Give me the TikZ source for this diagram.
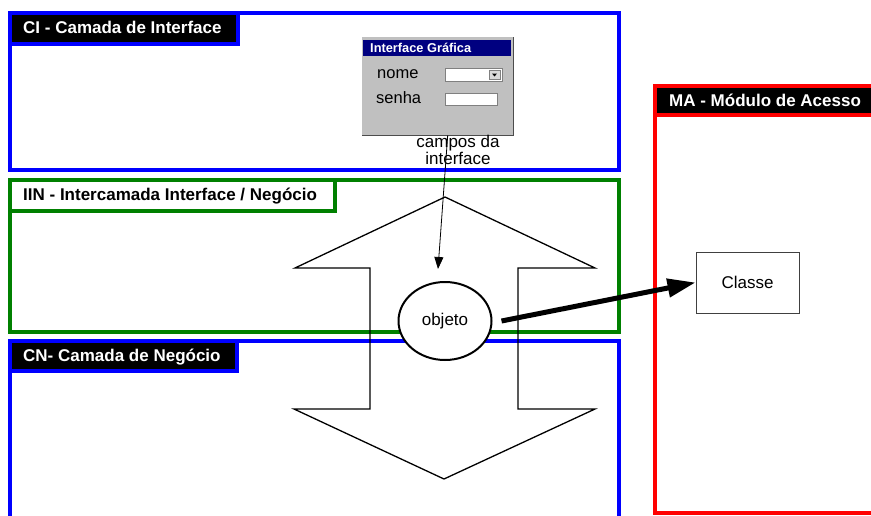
\documentclass[tikz,border=0pt]{standalone}
\usepackage{fontspec}
\setmainfont{Liberation Sans}
\usetikzlibrary{arrows.meta,shapes.geometric}

\definecolor{layerblue}{RGB}{0,0,255}
\definecolor{layergreen}{RGB}{0,128,0}
\definecolor{layerred}{RGB}{255,0,0}
\definecolor{titlenavy}{RGB}{0,0,128}
\definecolor{wingray}{RGB}{192,192,192}

\begin{document}
\begin{tikzpicture}[x=1pt,y=-1pt,
  layer/.style={line width=4pt},
  tagtext/.style={anchor=base west, inner sep=0pt, font=\fontsize{17}{20}\selectfont\bfseries},
  plain/.style={font=\fontsize{17}{20}\selectfont},
  formtext/.style={anchor=base west, inner sep=0pt, font=\fontsize{16.5}{18}\selectfont},
  field/.style={fill=white, draw=gray, line width=0.8pt},
]
\useasboundingbox (0,0) rectangle (871,515);
\fill[white] (0,0) rectangle (871,515);

% CI - interface layer
\draw[layer, layerblue] (10,13) rectangle (619,170);
\draw[layer, layerblue, fill=black] (10,13) rectangle (238,44);
\node[tagtext, text=white] (ci) at (23,33.5) {CI - Camada de Interface};

% IIN - interface / business layer
\draw[layer, layergreen] (10,180) rectangle (619,332);
\draw[layer, layergreen, fill=white] (10,180) rectangle (335,211);
\node[tagtext] (iin) at (23,200) {IIN - Intercamada Interface / Negócio};

% CN - business layer
\draw[layer, layerblue] (10,341) rectangle (619,540);
\draw[layer, layerblue, fill=black] (10,341) rectangle (237,371);
\node[tagtext, text=white] (cn) at (23,361.5) {CN- Camada de Negócio};

% MA - access module
\draw[layer, layerred] (655,86) rectangle (900,513);
\draw[layer, layerred, fill=black] (655,86) rectangle (900,115);
\node[tagtext, text=white] (ma) at (669,106) {MA - Módulo de Acesso};

% double-headed block arrow
\draw[line width=1.3pt, line join=miter]
  (445,197) -- (595,268) -- (518,268) -- (518,409) -- (595,409)
  -- (444,479) -- (294,409) -- (370,409) -- (370,268) -- (295,268) -- cycle;

% login window
\node[fill=wingray, minimum width=151pt, minimum height=98pt, inner sep=0pt,
      anchor=north west] (janela) at (362,37) {};
\draw[gray!60!black, line width=1.5pt]
  (janela.north east) -- (janela.south east) -- (janela.south west);
\fill[titlenavy] (363,40) rectangle (511,56);
\node[anchor=base west, inner sep=0pt, text=white,
      font=\fontsize{12.8}{14}\selectfont\bfseries] (titulo) at (370,52.5) {Interface Gráfica};
\node[formtext] (nome) at (377,78) {nome};
\node[formtext] (senha) at (376,103) {senha};
\draw[field] (445,68) rectangle (502,81);
\draw[fill=wingray!60, draw=gray, line width=0.6pt] (489,70) rectangle (500,79);
\fill (492,73.5) -- (497,73.5) -- (494.5,76.5) -- cycle;
\draw[field] (445,93) rectangle (497,105);

\node[plain, anchor=base, inner sep=0pt] (campos1) at (458,147) {campos da};
\node[plain, anchor=base, inner sep=0pt] (campos2) at (458,164) {interface};

% object and class
\node[ellipse, draw, line width=2pt, fill=white, minimum width=93pt,
      minimum height=78pt, inner sep=0pt, plain] (objeto) at (445,321) {objeto};
\node[draw=black!75, line width=1pt, fill=white, minimum width=103pt,
      minimum height=61pt, plain] (classe) at (747.5,282.5) {Classe};

% connectors
\draw[line width=0.8pt, -{Triangle[length=12pt,width=9pt]}]
  ([xshift=10pt]janela.south) -- ([xshift=-7pt,yshift=12pt]objeto.north);
\draw[line width=5pt, -{Triangle[length=28pt,width=18pt]}]
  ([xshift=9pt]objeto.east) -- (classe.west);
\end{tikzpicture}
\end{document}
